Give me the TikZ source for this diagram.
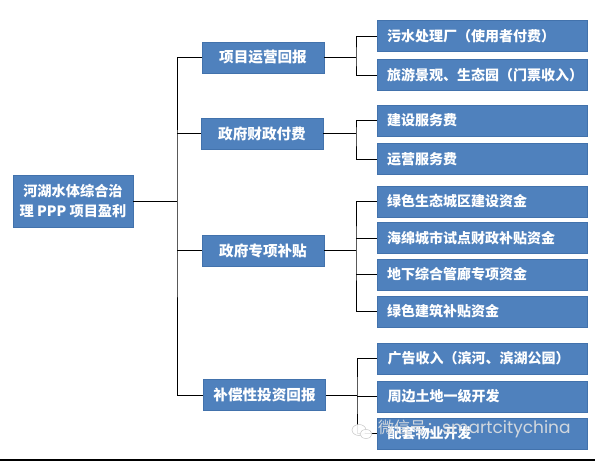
\documentclass[tikz,border=0pt]{standalone}
\usepackage{fontspec}
\newfontfamily\cjk{Noto Sans CJK SC}
\newfontfamily\wmfont{Poppins}
\definecolor{boxblue}{HTML}{4F81BD}
\definecolor{boxedge}{HTML}{4272AC}
\definecolor{wmgray}{HTML}{D8DCE0}
\definecolor{baseline}{HTML}{66798C}
\tikzset{
  boxbase/.style={draw=boxedge, fill=boxblue, line width=0.6pt, text=white, inner sep=0pt},
  rootbox/.style={boxbase, minimum width=120, minimum height=52, align=center,
    font=\cjk\bfseries\fontsize{14.2}{20}\selectfont},
  midbox/.style={boxbase, minimum width=122, minimum height=31,
    font=\cjk\bfseries\fontsize{14.6}{17}\selectfont},
  leafbox/.style={boxbase, minimum width=210, minimum height=31, text width=190,
    align=left, inner xsep=10pt, font=\cjk\bfseries\fontsize{14}{16}\selectfont},
  wire/.style={draw=black, line width=0.8pt}
}
\begin{document}
\begin{tikzpicture}[x=1pt,y=-1pt]
\useasboundingbox[fill=white] (0,0) rectangle (595,461);

% root
\node[rootbox] (root) at (73,201) {河湖水体综合治\\理 PPP 项目盈利};

% middle level
\node[midbox] (m1) at (263,57.5) {项目运营回报};
\node[midbox] (m2) at (262,133.5) {政府财政付费};
\node[midbox] (m3) at (263,250.5) {政府专项补贴};
\node[midbox] (m4) at (264.5,395) {补偿性投资回报};

% leaves
\node[leafbox] (l1) at (482,36) {污水处理厂（使用者付费）};
\node[leafbox] (l2) at (482,75) {旅游景观、生态园（门票收入）};
\node[leafbox] (l3) at (482,120.5) {建设服务费};
\node[leafbox] (l4) at (482,159) {运营服务费};
\node[leafbox] (l5) at (482,201.5) {绿色生态城区建设资金};
\node[leafbox] (l6) at (482,238) {海绵城市试点财政补贴资金};
\node[leafbox] (l7) at (482,274.5) {地下综合管廊专项资金};
\node[leafbox] (l8) at (482,311.5) {绿色建筑补贴资金};
\node[leafbox] (l9) at (482.5,358.5) {广告收入（滨河、滨湖公园）};
\node[leafbox] (l10) at (482.5,396.5) {周边土地一级开发};
\node[leafbox] (l11) at (482.5,433.5) {配套物业开发};

% trunk
\coordinate (t) at (177,201);
\draw[wire] (root.east) -- (t);
\draw[wire] (m1.west) -| (t) |- (m4.west);
\draw[wire] (m2.west) -- (m2.west -| t);
\draw[wire] (m3.west) -- (m3.west -| t);

% brackets
\coordinate (b1) at (356,57.5);
\coordinate (b2) at (356,133.5);
\coordinate (b3) at (356,250.5);
\coordinate (b4) at (357,395);
\draw[wire] (m1.east) -- (b1);
\draw[wire] (l1.west) -| (b1) |- (l2.west);
\draw[wire] (m2.east) -- (b2);
\draw[wire] (l3.west) -| (b2) |- (l4.west);
\draw[wire] (m3.east) -- (b3);
\draw[wire] (l5.west) -| (b3) |- (l8.west);
\draw[wire] (l6.west) -- (l6.west -| b3);
\draw[wire] (l7.west) -- (l7.west -| b3);
\draw[wire] (m4.east) -- (b4);
\draw[wire] (l9.west) -| (b4) |- (l11.west);
\draw[wire] (l10.west) -- (l10.west -| b4);

% watermark
\fill[white, opacity=0.9] (359,430) ellipse (7 and 5.5);
\draw[gray!45, line width=0.5pt] (359,430) ellipse (7 and 5.5);
\fill[white, opacity=0.9] (366,434) ellipse (6 and 4.5);
\draw[gray!45, line width=0.5pt] (366,434) ellipse (6 and 4.5);
\node[anchor=west, inner sep=0pt, text=wmgray, opacity=0.95] (wm) at (378,429)
  {{\cjk\fontsize{16}{18}\selectfont 微信号：}{\wmfont\fontsize{17}{18}\selectfont smartcitychina}};

% bottom rule
\fill[baseline] (0,459) rectangle (595,461);
\end{tikzpicture}
\end{document}
